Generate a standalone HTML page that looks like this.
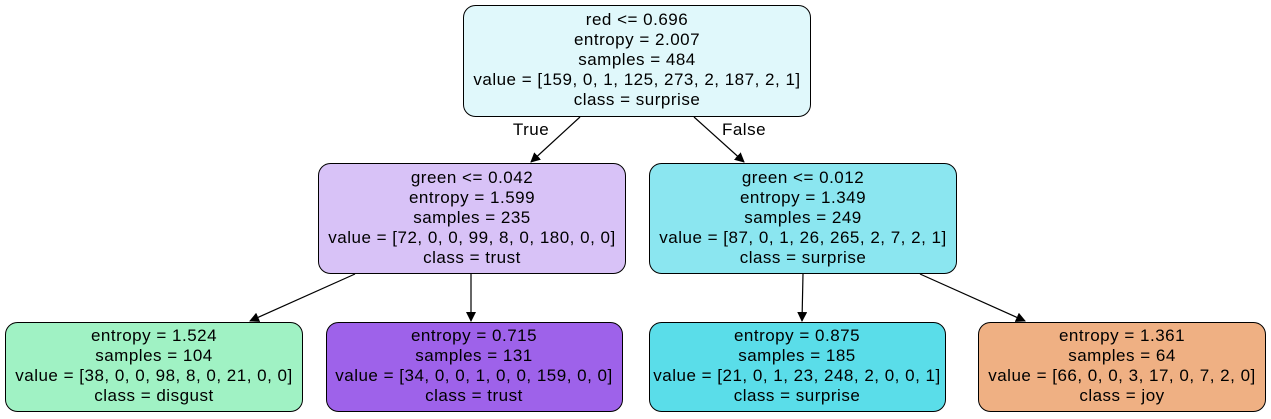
<!DOCTYPE html>
<html><head><meta charset="utf-8"><style>
html,body{margin:0;padding:0;background:#fff;}
svg{display:block;font-family:"Liberation Sans",Arial,sans-serif;}
text{font-size:17px;letter-spacing:0.5px;fill:#000;text-anchor:middle;}
</style></head><body>
<svg width="1271" height="419" viewBox="0 0 1271 419">
<defs><marker id="ah" markerWidth="10" markerHeight="10" refX="9" refY="5" orient="auto" markerUnits="userSpaceOnUse"><path d="M0,0 L10,5 L0,10 z" fill="#000"/></marker></defs>
<g stroke="#000" stroke-width="1.2" fill="none">
<line x1="580" y1="117" x2="531" y2="162" marker-end="url(#ah)"/>
<line x1="694" y1="117" x2="744" y2="162" marker-end="url(#ah)"/>
<line x1="355" y1="274" x2="250" y2="321" marker-end="url(#ah)"/>
<line x1="471" y1="274" x2="471" y2="321" marker-end="url(#ah)"/>
<line x1="803" y1="274" x2="802" y2="321" marker-end="url(#ah)"/>
<line x1="920" y1="274" x2="1025" y2="321" marker-end="url(#ah)"/>
</g>
<text x="531" y="135">True</text>
<text x="744" y="135">False</text>

<g>
<rect x="463.5" y="5.5" width="347" height="111" rx="12" fill="#e0f8fb" stroke="#000"/>
<text x="637" y="25">red &lt;= 0.696</text><text x="637" y="45">entropy = 2.007</text><text x="637" y="65">samples = 484</text><text x="637" y="85">value = [159, 0, 1, 125, 273, 2, 187, 2, 1]</text><text x="637" y="105">class = surprise</text>
</g>
<g>
<rect x="318.5" y="163.5" width="307" height="110" rx="12" fill="#d8c2f7" stroke="#000"/>
<text x="472" y="183">green &lt;= 0.042</text><text x="472" y="203">entropy = 1.599</text><text x="472" y="223">samples = 235</text><text x="472" y="243">value = [72, 0, 0, 99, 8, 0, 180, 0, 0]</text><text x="472" y="263">class = trust</text>
</g>
<g>
<rect x="649.5" y="163.5" width="307" height="110" rx="12" fill="#8be6f0" stroke="#000"/>
<text x="803" y="183">green &lt;= 0.012</text><text x="803" y="203">entropy = 1.349</text><text x="803" y="223">samples = 249</text><text x="803" y="243">value = [87, 0, 1, 26, 265, 2, 7, 2, 1]</text><text x="803" y="263">class = surprise</text>
</g>
<g>
<rect x="5.5" y="322.5" width="297" height="89" rx="12" fill="#a0f2c4" stroke="#000"/>
<text x="154" y="341">entropy = 1.524</text><text x="154" y="361">samples = 104</text><text x="154" y="381">value = [38, 0, 0, 98, 8, 0, 21, 0, 0]</text><text x="154" y="401">class = disgust</text>
</g>
<g>
<rect x="326.5" y="322.5" width="296" height="89" rx="12" fill="#9e62ea" stroke="#000"/>
<text x="474" y="341">entropy = 0.715</text><text x="474" y="361">samples = 131</text><text x="474" y="381">value = [34, 0, 0, 1, 0, 0, 159, 0, 0]</text><text x="474" y="401">class = trust</text>
</g>
<g>
<rect x="649.5" y="322.5" width="296" height="89" rx="12" fill="#5adde9" stroke="#000"/>
<text x="797" y="341">entropy = 0.875</text><text x="797" y="361">samples = 185</text><text x="797" y="381">value = [21, 0, 1, 23, 248, 2, 0, 0, 1]</text><text x="797" y="401">class = surprise</text>
</g>
<g>
<rect x="978.5" y="322.5" width="287" height="89" rx="12" fill="#efb083" stroke="#000"/>
<text x="1122" y="341">entropy = 1.361</text><text x="1122" y="361">samples = 64</text><text x="1122" y="381">value = [66, 0, 0, 3, 17, 0, 7, 2, 0]</text><text x="1122" y="401">class = joy</text>
</g>
</svg>
</body></html>
